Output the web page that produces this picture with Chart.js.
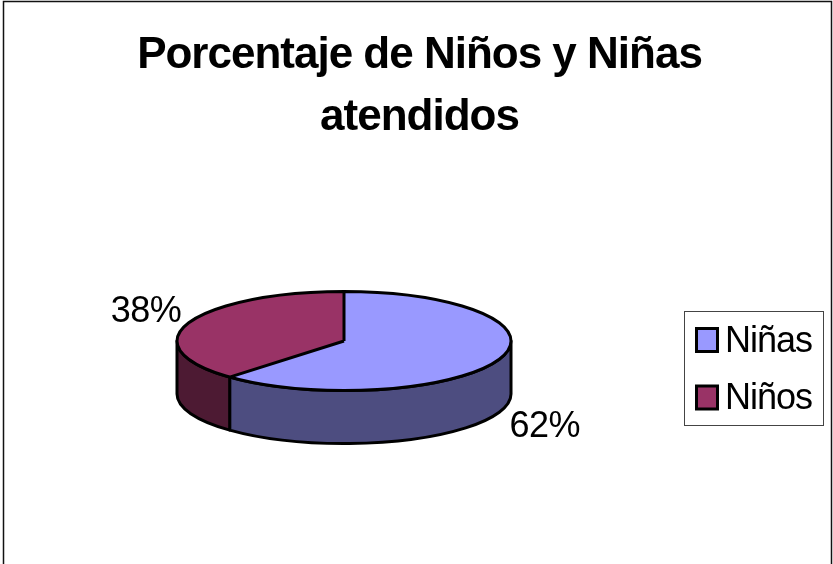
<!DOCTYPE html>
<html>
<head>
<meta charset="utf-8">
<style>html,body{margin:0;padding:0;background:#fff}canvas{display:block}</style>
<script src="https://cdn.jsdelivr.net/npm/chart.js@4/dist/chart.umd.min.js"></script>
</head>
<body>
<canvas id="c" width="833" height="564" style="width:833px;height:564px"></canvas>
<script>
const titleLines = ["Porcentaje de Niños y Niñas", "atendidos"];
const categories = ["Niñas", "Niños"];
const values = [62, 38];
const topColors = ["#9999FF", "#993366"];
const sideColors = ["#4D4D80", "#4D1A33"];

const FONT = "'Liberation Sans', Arial, sans-serif";
const SQUASH = 49.5 / 167;
const DEPTH = 53;

const pie3d = {
  id: 'pie3d',
  beforeDraw(chart) {
    chart.ctx.letterSpacing = '-1px';
    const c = chart.ctx;
    c.save();
    c.strokeStyle = '#111';
    c.lineWidth = 1.5;
    c.beginPath();
    c.moveTo(3.5, 564);
    c.lineTo(3.5, 1.5);
    c.lineTo(831.5, 1.5);
    c.lineTo(831.5, 564);
    c.stroke();
    c.restore();
  },
  afterLayout(chart) {
    const t = chart.titleBlock;
    t.left = 3; t.right = 836;
    const l = chart.legend;
    l.left = 684; l.top = 303; l.right = 824; l.bottom = 520;
    l.width = 140; l.height = 217;
  },
  beforeDatasetsDraw(chart) {
    const c = chart.ctx;
    const arcs = chart.getDatasetMeta(0).data;
    const cx = arcs[0].x, cy = arcs[0].y, rx = arcs[0].outerRadius, ry = rx * SQUASH;
    c.save();
    c.lineWidth = 3;
    c.strokeStyle = '#000';
    c.lineJoin = 'round';
    arcs.forEach((a, i) => {
      const s = Math.max(a.startAngle, 0), e = Math.min(a.endAngle, Math.PI);
      if (e <= s) return;
      c.beginPath();
      c.ellipse(cx, cy, rx, ry, 0, s, e);
      c.lineTo(cx + rx * Math.cos(e), cy + ry * Math.sin(e) + DEPTH);
      c.ellipse(cx, cy + DEPTH, rx, ry, 0, e, s, true);
      c.closePath();
      c.fillStyle = sideColors[i];
      c.fill();
      c.stroke();
    });
    c.restore();
    c.save();
    c.translate(cx, cy);
    c.scale(1, SQUASH);
    c.translate(-cx, -cy);
  },
  afterDatasetsDraw(chart) {
    const c = chart.ctx;
    c.restore();
    const arcs = chart.getDatasetMeta(0).data;
    const cx = arcs[0].x, cy = arcs[0].y, rx = arcs[0].outerRadius, ry = rx * SQUASH;
    c.save();
    c.strokeStyle = '#000';
    c.lineWidth = 3;
    c.lineJoin = 'round';
    c.beginPath();
    c.ellipse(cx, cy, rx, ry, 0, 0, Math.PI * 2);
    arcs.forEach(a => {
      c.moveTo(cx, cy);
      c.lineTo(cx + rx * Math.cos(a.startAngle), cy + ry * Math.sin(a.startAngle));
    });
    c.stroke();
    const total = values.reduce((p, v) => p + v, 0);
    c.fillStyle = '#000';
    c.font = '36px ' + FONT;
    c.letterSpacing = '-0.5px';
    c.textAlign = 'center';
    c.textBaseline = 'alphabetic';
    arcs.forEach((a, i) => {
      const m = (a.startAngle + a.endAngle) / 2;
      const sin = Math.sin(m), cos = Math.cos(m);
      const x = cx + (rx + (cos > 0 ? 49 : 46)) * cos;
      const y = cy + (ry + (sin > 0 ? 32 : 37)) * sin + (sin > 0 ? DEPTH : 0);
      c.fillText(Math.round(values[i] / total * 100) + '%', x, y + 13);
    });
    c.restore();
  },
  afterDraw(chart) {
    const c = chart.ctx;
    c.save();
    c.strokeStyle = '#444';
    c.lineWidth = 1;
    c.strokeRect(684.5, 311.5, 139, 114);
    c.lineWidth = 3;
    c.strokeStyle = '#000';
    chart.legend.legendItems.forEach((it, i) => {
      c.fillStyle = topColors[i];
      c.fillRect(696.5, 328.5 + i * 57.5, 21, 23);
      c.strokeRect(696.5, 328.5 + i * 57.5, 21, 23);
    });
    c.restore();
  }
};

new Chart(document.getElementById('c'), {
  type: 'pie',
  plugins: [pie3d],
  data: {
    labels: categories,
    datasets: [{
      data: values,
      backgroundColor: topColors,
      borderWidth: 0,
      hoverOffset: 0
    }]
  },
  options: {
    responsive: false,
    animation: false,
    events: [],
    layout: { padding: { left: 177, right: 322, top: 0, bottom: 56 } },
    plugins: {
      tooltip: { enabled: false },
      title: {
        display: true,
        text: titleLines,
        color: '#000',
        font: { family: FONT, size: 44, weight: 'bold', lineHeight: 62 / 44 },
        padding: { top: 25, bottom: 25 }
      },
      legend: {
        display: true,
        position: 'chartArea',
        align: 'start',
        labels: {
          color: '#000',
          font: { family: FONT, size: 36, lineHeight: 1.2 },
          boxWidth: 2,
          boxHeight: 2,
          padding: 21,
          generateLabels(chart) {
            return Chart.overrides.pie.plugins.legend.labels.generateLabels(chart)
              .map(it => Object.assign(it, { fillStyle: 'rgba(0,0,0,0)', strokeStyle: 'rgba(0,0,0,0)', lineWidth: 0 }));
          }
        }
      }
    }
  }
});
</script>
</body>
</html>
